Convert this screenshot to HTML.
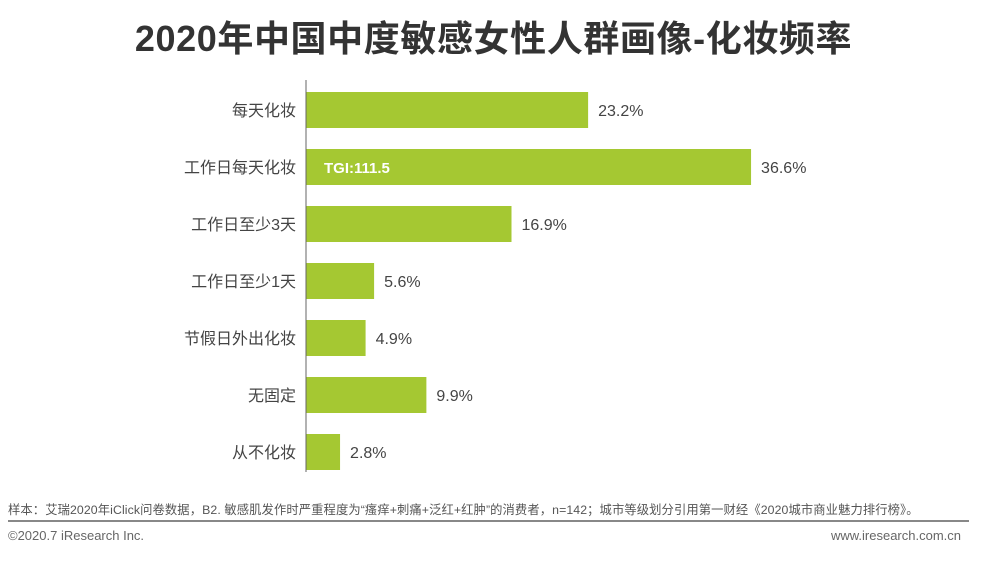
<!DOCTYPE html>
<html><head><meta charset="utf-8"><style>
body{margin:0;background:#fff;width:981px;height:562px;overflow:hidden;font-family:"Liberation Sans","Noto Sans CJK SC",sans-serif;position:relative}
.t{position:absolute}
</style></head><body>
<div class="t" style="left:0;width:981px;top:10px;text-align:center;font-size:36px;font-weight:bold;color:#333;letter-spacing:0.6px;padding-left:6px;box-sizing:border-box">2020年中国中度敏感女性人群画像-化妆频率</div>
<svg class="t" style="left:0;top:0" width="981" height="562" id="chart"></svg>
<div class="t" style="left:8px;top:500px;font-size:12.3px;color:#555;white-space:nowrap;letter-spacing:0.1px">样本：艾瑞2020年iClick问卷数据，B2. 敏感肌发作时严重程度为“瘙痒+刺痛+泛红+红肿”的消费者，n=142；城市等级划分引用第一财经《2020城市商业魅力排行榜》。</div>
<div class="t" style="left:8px;top:520px;width:961px;height:2px;background:#888"></div>
<div class="t" style="left:8px;top:528px;font-size:13px;color:#666">©2020.7 iResearch Inc.</div>
<div class="t" style="right:20px;top:528px;font-size:13px;color:#666">www.iresearch.com.cn</div>
<script>
const categories=["每天化妆","工作日每天化妆","工作日至少3天","工作日至少1天","节假日外出化妆","无固定","从不化妆"];
const values=[23.2,36.6,16.9,5.6,4.9,9.9,2.8];
const valueLabels=["23.2%","36.6%","16.9%","5.6%","4.9%","9.9%","2.8%"];
const annotations=["","TGI:111.5","","","","",""];
const svg=document.getElementById('chart');
const NS='http://www.w3.org/2000/svg';
const x0=306,pxPer=12.16,y0=110,step=57,bh=36;
const xs=v=>x0+v*pxPer, ys=i=>y0+i*step;
function mk(tag,attrs){const e=document.createElementNS(NS,tag);for(const k in attrs)e.setAttribute(k,attrs[k]);svg.appendChild(e);return e;}
categories.forEach((c,i)=>{
  const r=mk('rect',{x:x0,y:ys(i)-bh/2,width:xs(values[i])-x0,height:bh,fill:'#a5c832'});
  
  
  const l=mk('text',{x:296,y:ys(i)+6,'text-anchor':'end','font-size':16,fill:'#444'});
  l.textContent=c;
  
  
  const v=mk('text',{x:xs(values[i])+10,y:ys(i)+6,'font-size':16,fill:'#444'});
  v.textContent=valueLabels[i];
  
  
  if(annotations[i]){
    const a=mk('text',{x:x0+18,y:ys(i)+6,'font-size':15,'font-weight':'bold',fill:'#fff'});
    a.textContent=annotations[i];
    
    
  }
});
const ax=mk('line',{x1:x0,x2:x0,y1:80,y2:472,stroke:'#666','stroke-width':1});


</script>
</body></html>
